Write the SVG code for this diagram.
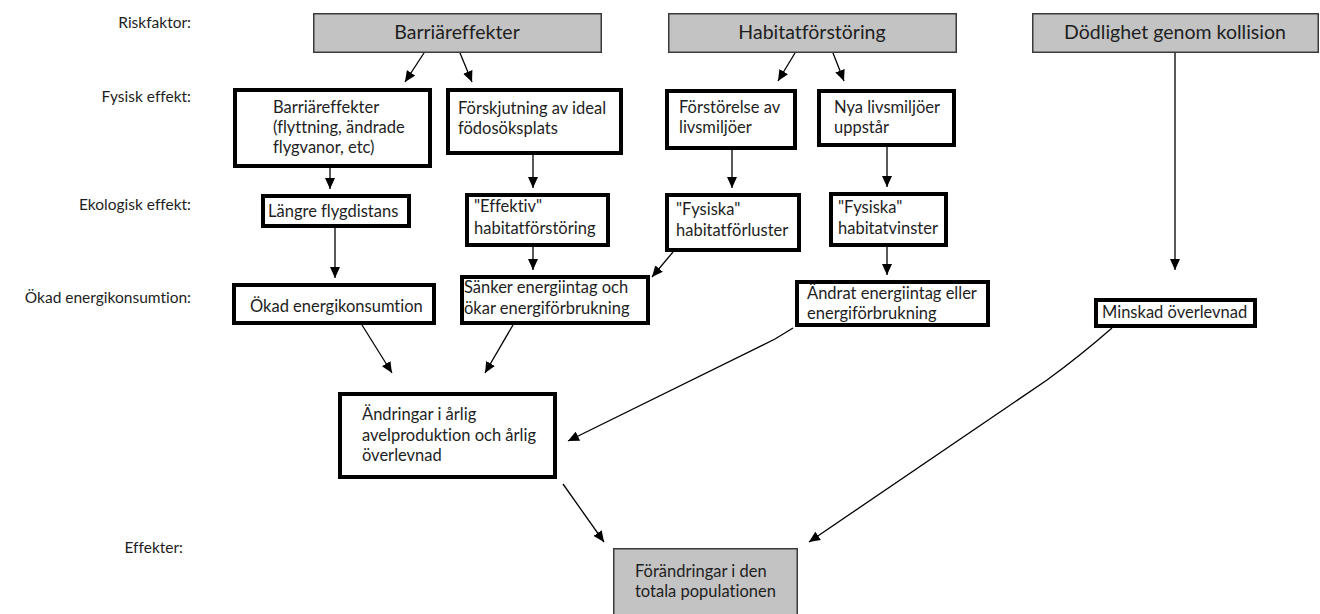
<svg xmlns="http://www.w3.org/2000/svg" width="1320" height="614" viewBox="0 0 1320 614">
<defs>
<marker id="ah" markerUnits="userSpaceOnUse" markerWidth="12" markerHeight="10" refX="11" refY="5" orient="auto">
<path d="M0,0 L11,5 L0,10 Z" fill="#000"/>
</marker>
<style>
text{font-family:Lato,"Liberation Sans",sans-serif;fill:#1e1e1e;font-variant-ligatures:none;font-feature-settings:"liga" 0,"clig" 0;}
.lbl{font-size:15.5px;text-anchor:end;}
.t{font-size:16.5px;}
.title{font-size:19.5px;text-anchor:middle;}
.wb{fill:#fff;stroke:#000;stroke-width:4;}
.gb{fill:#c3c3c3;stroke:#3a3a3a;stroke-width:1.5;}
.c{fill:none;stroke:#000;stroke-width:1.3;marker-end:url(#ah);}
</style>
</defs>
<rect width="1320" height="614" fill="#fff"/>
<g id="labels">
<text class="lbl" x="191" y="28">Riskfaktor:</text>
<text class="lbl" x="191" y="102">Fysisk effekt:</text>
<text class="lbl" x="191" y="210">Ekologisk effekt:</text>
<text class="lbl" x="191" y="303">Ökad energikonsumtion:</text>
<text class="lbl" x="183" y="553">Effekter:</text>
</g>
<g id="connectors">
<line class="c" x1="424" y1="53" x2="405" y2="82"/>
<line class="c" x1="460" y1="53" x2="472" y2="82"/>
<line class="c" x1="795" y1="53" x2="778" y2="81"/>
<line class="c" x1="833" y1="53" x2="844" y2="81"/>
<line class="c" x1="330" y1="168" x2="330" y2="189"/>
<line class="c" x1="533" y1="155" x2="533" y2="188"/>
<line class="c" x1="732" y1="150" x2="732" y2="188"/>
<line class="c" x1="887" y1="147" x2="887" y2="187"/>
<line class="c" x1="335" y1="228" x2="335" y2="278"/>
<line class="c" x1="533" y1="247" x2="533" y2="270"/>
<line class="c" x1="673" y1="252" x2="652" y2="277"/>
<line class="c" x1="887" y1="247" x2="887" y2="275"/>
<line class="c" x1="1175" y1="53" x2="1175" y2="270"/>
<line class="c" x1="362" y1="325" x2="392" y2="373"/>
<line class="c" x1="513" y1="325" x2="485" y2="373"/>
<path class="c" d="M793,328 L775,339 L568,441"/>
<path class="c" d="M1112,328 Q1080,356 1047,380 L809,542"/>
<line class="c" x1="563" y1="484" x2="604" y2="542"/>
</g>
<g id="n-barriar">
<rect class="gb" x="313.75" y="13.75" width="287.5" height="38.5"/>
<text class="title" x="457" y="39">Barriäreffekter</text>
</g>
<g id="n-habitat">
<rect class="gb" x="668.75" y="13.75" width="287.5" height="38.5"/>
<text class="title" x="812" y="39">Habitatförstöring</text>
</g>
<g id="n-dodlighet">
<rect class="gb" x="1032.75" y="13.75" width="285.5" height="38.5"/>
<text class="title" x="1175" y="39">Dödlighet genom kollision</text>
</g>
<g id="n-b1">
<rect class="wb" x="235" y="90" width="195" height="76"/>
<text class="t" x="273" y="113">Barriäreffekter</text>
<text class="t" x="273" y="133">(flyttning, ändrade</text>
<text class="t" x="273" y="153">flygvanor, etc)</text>
</g>
<g id="n-b2">
<rect class="wb" x="448" y="90" width="173" height="63"/>
<text class="t" x="458" y="114">Förskjutning av ideal</text>
<text class="t" x="458" y="134">födosöksplats</text>
</g>
<g id="n-h1">
<rect class="wb" x="667" y="91" width="128" height="57"/>
<text class="t" x="679" y="113">Förstörelse av</text>
<text class="t" x="679" y="133">livsmiljöer</text>
</g>
<g id="n-h2">
<rect class="wb" x="819" y="91" width="135" height="54"/>
<text class="t" x="834" y="113">Nya livsmiljöer</text>
<text class="t" x="834" y="133">uppstår</text>
</g>
<g id="n-e1">
<rect class="wb" x="263" y="196" width="146" height="30"/>
<text class="t" x="268" y="217">Längre flygdistans</text>
</g>
<g id="n-e2">
<rect class="wb" x="467" y="195" width="141" height="50"/>
<text class="t" x="474" y="212">"Effektiv"</text>
<text class="t" x="474" y="234">habitatförstöring</text>
</g>
<g id="n-e3">
<rect class="wb" x="667" y="195" width="132" height="55"/>
<text class="t" x="676" y="215">"Fysiska"</text>
<text class="t" x="676" y="236">habitatförluster</text>
</g>
<g id="n-e4">
<rect class="wb" x="831" y="194" width="115" height="51"/>
<text class="t" x="838" y="213">"Fysiska"</text>
<text class="t" x="838" y="234">habitatvinster</text>
</g>
<g id="n-o1">
<rect class="wb" x="234" y="285" width="200" height="38"/>
<text class="t" x="250" y="312">Ökad energikonsumtion</text>
</g>
<g id="n-o2">
<rect class="wb" x="462" y="277" width="186" height="46"/>
<text class="t" x="464" y="293">Sänker energiintag och</text>
<text class="t" x="464" y="314">ökar energiförbrukning</text>
</g>
<g id="n-o3">
<rect class="wb" x="797" y="282" width="191" height="43"/>
<text class="t" x="807" y="299">Ändrat energiintag eller</text>
<text class="t" x="807" y="319">energiförbrukning</text>
</g>
<g id="n-o4">
<rect class="wb" x="1096" y="300" width="159" height="26"/>
<text class="t" x="1102" y="318">Minskad överlevnad</text>
</g>
<g id="n-andringar">
<rect class="wb" x="340" y="394" width="215" height="83"/>
<text class="t" x="362" y="420">Ändringar i årlig</text>
<text class="t" x="362" y="441">avelproduktion och årlig</text>
<text class="t" x="362" y="461">överlevnad</text>
</g>
<g id="n-forandringar">
<rect class="gb" x="613.75" y="548.75" width="183.5" height="70"/>
<text class="t" x="635" y="577">Förändringar i den</text>
<text class="t" x="635" y="597">totala populationen</text>
</g>
</svg>
